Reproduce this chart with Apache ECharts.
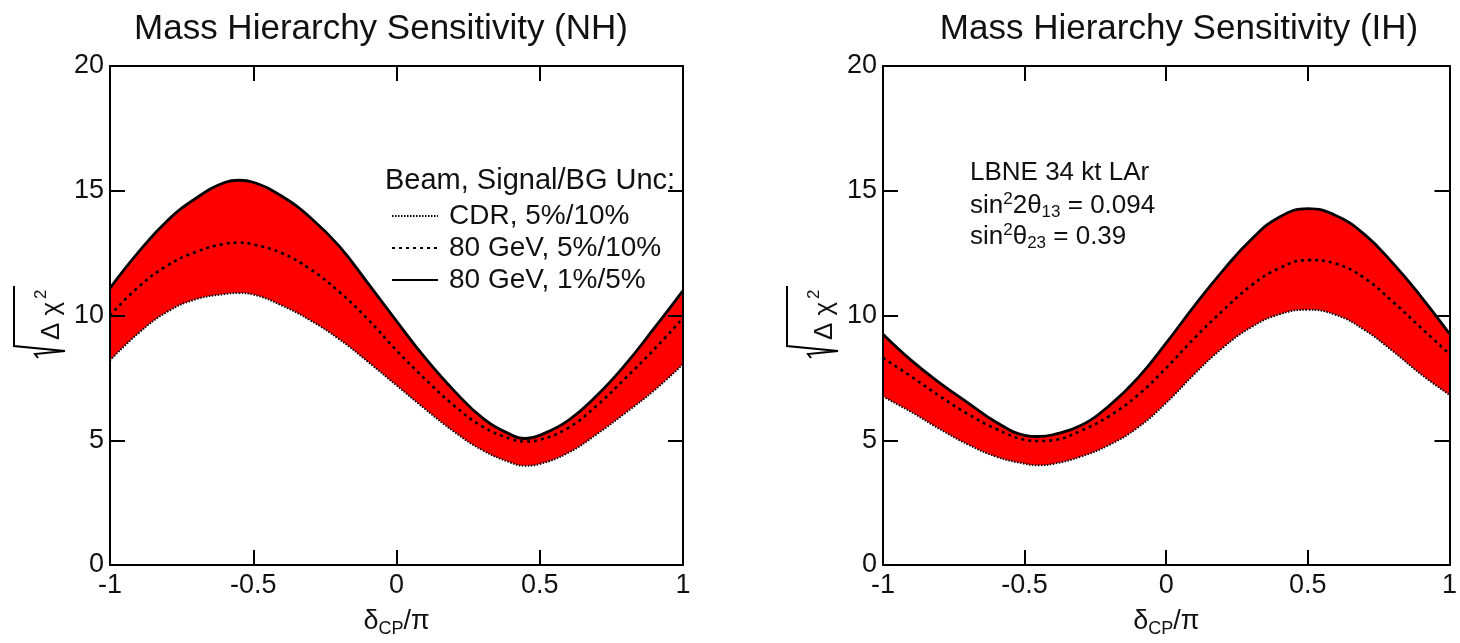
<!DOCTYPE html>
<html>
<head>
<meta charset="utf-8">
<script src="https://cdn.jsdelivr.net/npm/echarts@6/dist/echarts.min.js"></script>
<style>
html,body{margin:0;padding:0;background:#fff;}
#chart{width:1460px;height:643px;}
</style>
</head>
<body>
<div id="chart"></div>
<script>
// ---- data ----
const xTicks = [-1, -0.5, 0, 0.5, 1];
const yTicks = [0, 5, 10, 15, 20];
const seriesNames = ['CDR, 5%/10%', '80 GeV, 5%/10%', '80 GeV, 1%/5%'];

// Normal hierarchy (delta_CP/pi sample points and sqrt(delta chi^2) readings)
const nhDelta   = [-1, -0.9, -0.8, -0.7, -0.6, -0.55, -0.5, -0.4, -0.3, -0.2, -0.1, 0, 0.1, 0.2, 0.3, 0.4, 0.45, 0.5, 0.6, 0.7, 0.8, 0.9, 1];
const nhCDR     = [8.2, 9.3, 10.15, 10.65, 10.86, 10.9, 10.84, 10.4, 9.8, 9.05, 8.15, 7.2, 6.25, 5.35, 4.6, 4.1, 3.98, 4.05, 4.5, 5.25, 6.1, 7.0, 8.05];
const nhGeV5_10 = [10.0, 11.15, 12.0, 12.55, 12.87, 12.92, 12.85, 12.5, 11.85, 10.95, 9.85, 8.6, 7.45, 6.4, 5.55, 5.05, 4.95, 5.02, 5.5, 6.4, 7.5, 8.65, 9.9];
const nhGeV1_5  = [11.1, 12.55, 13.8, 14.7, 15.33, 15.42, 15.34, 14.78, 13.92, 12.78, 11.3, 9.78, 8.3, 7.0, 5.9, 5.22, 5.07, 5.2, 5.8, 6.8, 8.05, 9.5, 11.0];

// Inverted hierarchy
const ihDelta   = [-1, -0.9, -0.8, -0.7, -0.6, -0.5, -0.45, -0.4, -0.3, -0.2, -0.1, 0, 0.1, 0.2, 0.3, 0.4, 0.5, 0.6, 0.7, 0.8, 0.9, 1];
const ihCDR     = [6.75, 6.13, 5.45, 4.83, 4.34, 4.06, 4.0, 4.05, 4.35, 4.82, 5.51, 6.5, 7.66, 8.71, 9.53, 10.05, 10.23, 10.02, 9.42, 8.57, 7.64, 6.82];
const ihGeV5_10 = [8.3, 7.55, 6.77, 6.05, 5.45, 5.02, 4.97, 5.0, 5.39, 5.98, 6.81, 7.9, 9.1, 10.2, 11.2, 11.9, 12.22, 12.07, 11.5, 10.55, 9.5, 8.45];
const ihGeV1_5  = [9.25, 8.2, 7.3, 6.5, 5.72, 5.2, 5.15, 5.22, 5.6, 6.4, 7.5, 8.9, 10.4, 11.8, 13.05, 13.95, 14.28, 14.0, 13.25, 12.1, 10.75, 9.27];

const titles = ['Mass Hierarchy Sensitivity (NH)', 'Mass Hierarchy Sensitivity (IH)'];
const legendHeader = 'Beam, Signal/BG Unc:';
const ihNotes = ['LBNE 34 kt LAr', 'sin{sup|2}2θ{sub|13} = 0.094', 'sin{sup|2}θ{sub|23} = 0.39'];

// ---- build ----
const FONT = 'Liberation Sans, Arial, sans-serif';
const TXT = '#111';
const chart = echarts.init(document.getElementById('chart'), null, {renderer: 'canvas'});

const grids = [
  {left: 110, top: 66, width: 573, height: 515},
  {left: 883, top: 66, width: 573, height: 515}
];

function pairs(xs, arr) { return xs.map((x, i) => [x, arr[i]]); }

const xAxes = [], yAxes = [], series = [];
const SMOOTH = 0.45;
[[nhDelta, nhCDR, nhGeV5_10, nhGeV1_5], [ihDelta, ihCDR, ihGeV5_10, ihGeV1_5]].forEach((set, g) => {
  const common = {
    gridIndex: g, type: 'value', min: -1, max: 1, interval: 0.5, z: 10,
    splitLine: {show: false},
    axisLine: {show: true, onZero: false, lineStyle: {color: '#000', width: 2}},
    axisTick: {show: true, inside: true, length: 15, lineStyle: {color: '#000', width: 2}}
  };
  xAxes.push(Object.assign({}, common, {
    position: 'bottom',
    axisLabel: {show: true, fontSize: 27, color: TXT, fontFamily: FONT, margin: 7,
      formatter: v => (xTicks.indexOf(v) >= 0 ? String(v) : '')},
    name: 'δ{sub|CP}/π', nameLocation: 'middle', nameGap: 41,
    nameTextStyle: {fontSize: 27, color: TXT, fontFamily: FONT,
      rich: {sub: {fontSize: 18, color: TXT, fontFamily: FONT, padding: [14, 0, 0, 0]}}}
  }));
  xAxes.push(Object.assign({}, common, {position: 'top', axisLabel: {show: false}}));
  const ycommon = {
    gridIndex: g, type: 'value', min: 0, max: 20, interval: 5, z: 10,
    splitLine: {show: false},
    axisLine: {show: true, onZero: false, lineStyle: {color: '#000', width: 2}},
    axisTick: {show: true, inside: true, length: 15, lineStyle: {color: '#000', width: 2}}
  };
  yAxes.push(Object.assign({}, ycommon, {
    position: 'left',
    axisLabel: {show: true, fontSize: 27, color: TXT, fontFamily: FONT, margin: 6,
      formatter: v => (yTicks.indexOf(v) >= 0 ? String(v) : '')}
  }));
  yAxes.push(Object.assign({}, ycommon, {position: 'right', axisLabel: {show: false}}));

  const xi = g * 2, yi = g * 2;
  const [xs, low, mid, up] = set;
  // upper curve: red band down to the axis, masked in white below the lower curve
  series.push({
    type: 'line', name: seriesNames[2], xAxisIndex: xi, yAxisIndex: yi,
    data: pairs(xs, up), smooth: SMOOTH, showSymbol: false, symbol: 'none',
    areaStyle: {color: '#ff0000', opacity: 1},
    lineStyle: {color: '#000', width: 2.8, type: 'solid'}, itemStyle: {color: '#000'}, z: 2
  });
  series.push({
    type: 'line', name: seriesNames[0], xAxisIndex: xi, yAxisIndex: yi,
    data: pairs(xs, low), smooth: SMOOTH, showSymbol: false, symbol: 'none',
    areaStyle: {color: '#ffffff', opacity: 1},
    lineStyle: {color: '#000', width: 2, type: [1.5, 1.5]}, itemStyle: {color: '#000'}, z: 3
  });
  series.push({
    type: 'line', name: seriesNames[1], xAxisIndex: xi, yAxisIndex: yi,
    data: pairs(xs, mid), smooth: SMOOTH, showSymbol: false, symbol: 'none',
    lineStyle: {color: '#000', width: 2.6, type: [3, 4]}, itemStyle: {color: '#000'}, z: 4
  });
});

function yName(ox, oy) {
  return {
    type: 'group', x: ox, y: oy, rotation: Math.PI / 2, silent: true,
    children: [
      {type: 'text', x: 0, y: 12, style: {text: 'Δ χ', fontSize: 26, fontFamily: FONT, fill: TXT,
        textVerticalAlign: 'middle', textAlign: 'left'}},
      {type: 'text', x: 41, y: 1, style: {text: '2', fontSize: 17, fontFamily: FONT, fill: TXT,
        textVerticalAlign: 'middle', textAlign: 'left'}},
      {type: 'polyline', shape: {points: [[-18, -2], [-14, -5], [-11, 25], [-6, -26], [54, -26]]},
        style: {stroke: '#000', lineWidth: 2, fill: null}}
    ]
  };
}

const noteRich = {
  sup: {fontSize: 17, fontFamily: FONT, color: TXT, padding: [0, 0, 12, 0]},
  sub: {fontSize: 17, fontFamily: FONT, color: TXT, padding: [13, 0, 0, 0]}
};

const graphic = [
  {type: 'text', left: 385, top: 166, style: {text: legendHeader, fontSize: 29, fontFamily: FONT, fill: TXT}},
  yName(40, 340),
  yName(813, 340)
];
ihNotes.forEach((t, i) => {
  graphic.push({type: 'text', left: 970, top: 160 + i * 31,
    style: {text: t, fontSize: 26, fontFamily: FONT, fill: TXT, rich: noteRich}});
});

const option = {
  backgroundColor: '#fff',
  animation: false,
  title: [
    {text: titles[0], left: 376, top: 7, textAlign: 'center',
      textStyle: {fontSize: 35, fontWeight: 'normal', color: TXT, fontFamily: FONT}},
    {text: titles[1], left: 1174, top: 7, textAlign: 'center',
      textStyle: {fontSize: 35, fontWeight: 'normal', color: TXT, fontFamily: FONT}}
  ],
  legend: {
    data: seriesNames, orient: 'vertical', left: 386, top: 197,
    itemWidth: 46, itemHeight: 14, itemGap: 4, selectedMode: false,
    itemStyle: {opacity: 0},
    textStyle: {fontSize: 28, color: TXT, fontFamily: FONT, padding: [0, 0, 0, 6]}
  },
  grid: grids,
  xAxis: xAxes,
  yAxis: yAxes,
  series: series,
  graphic: graphic
};
chart.setOption(option);
</script>
</body>
</html>
